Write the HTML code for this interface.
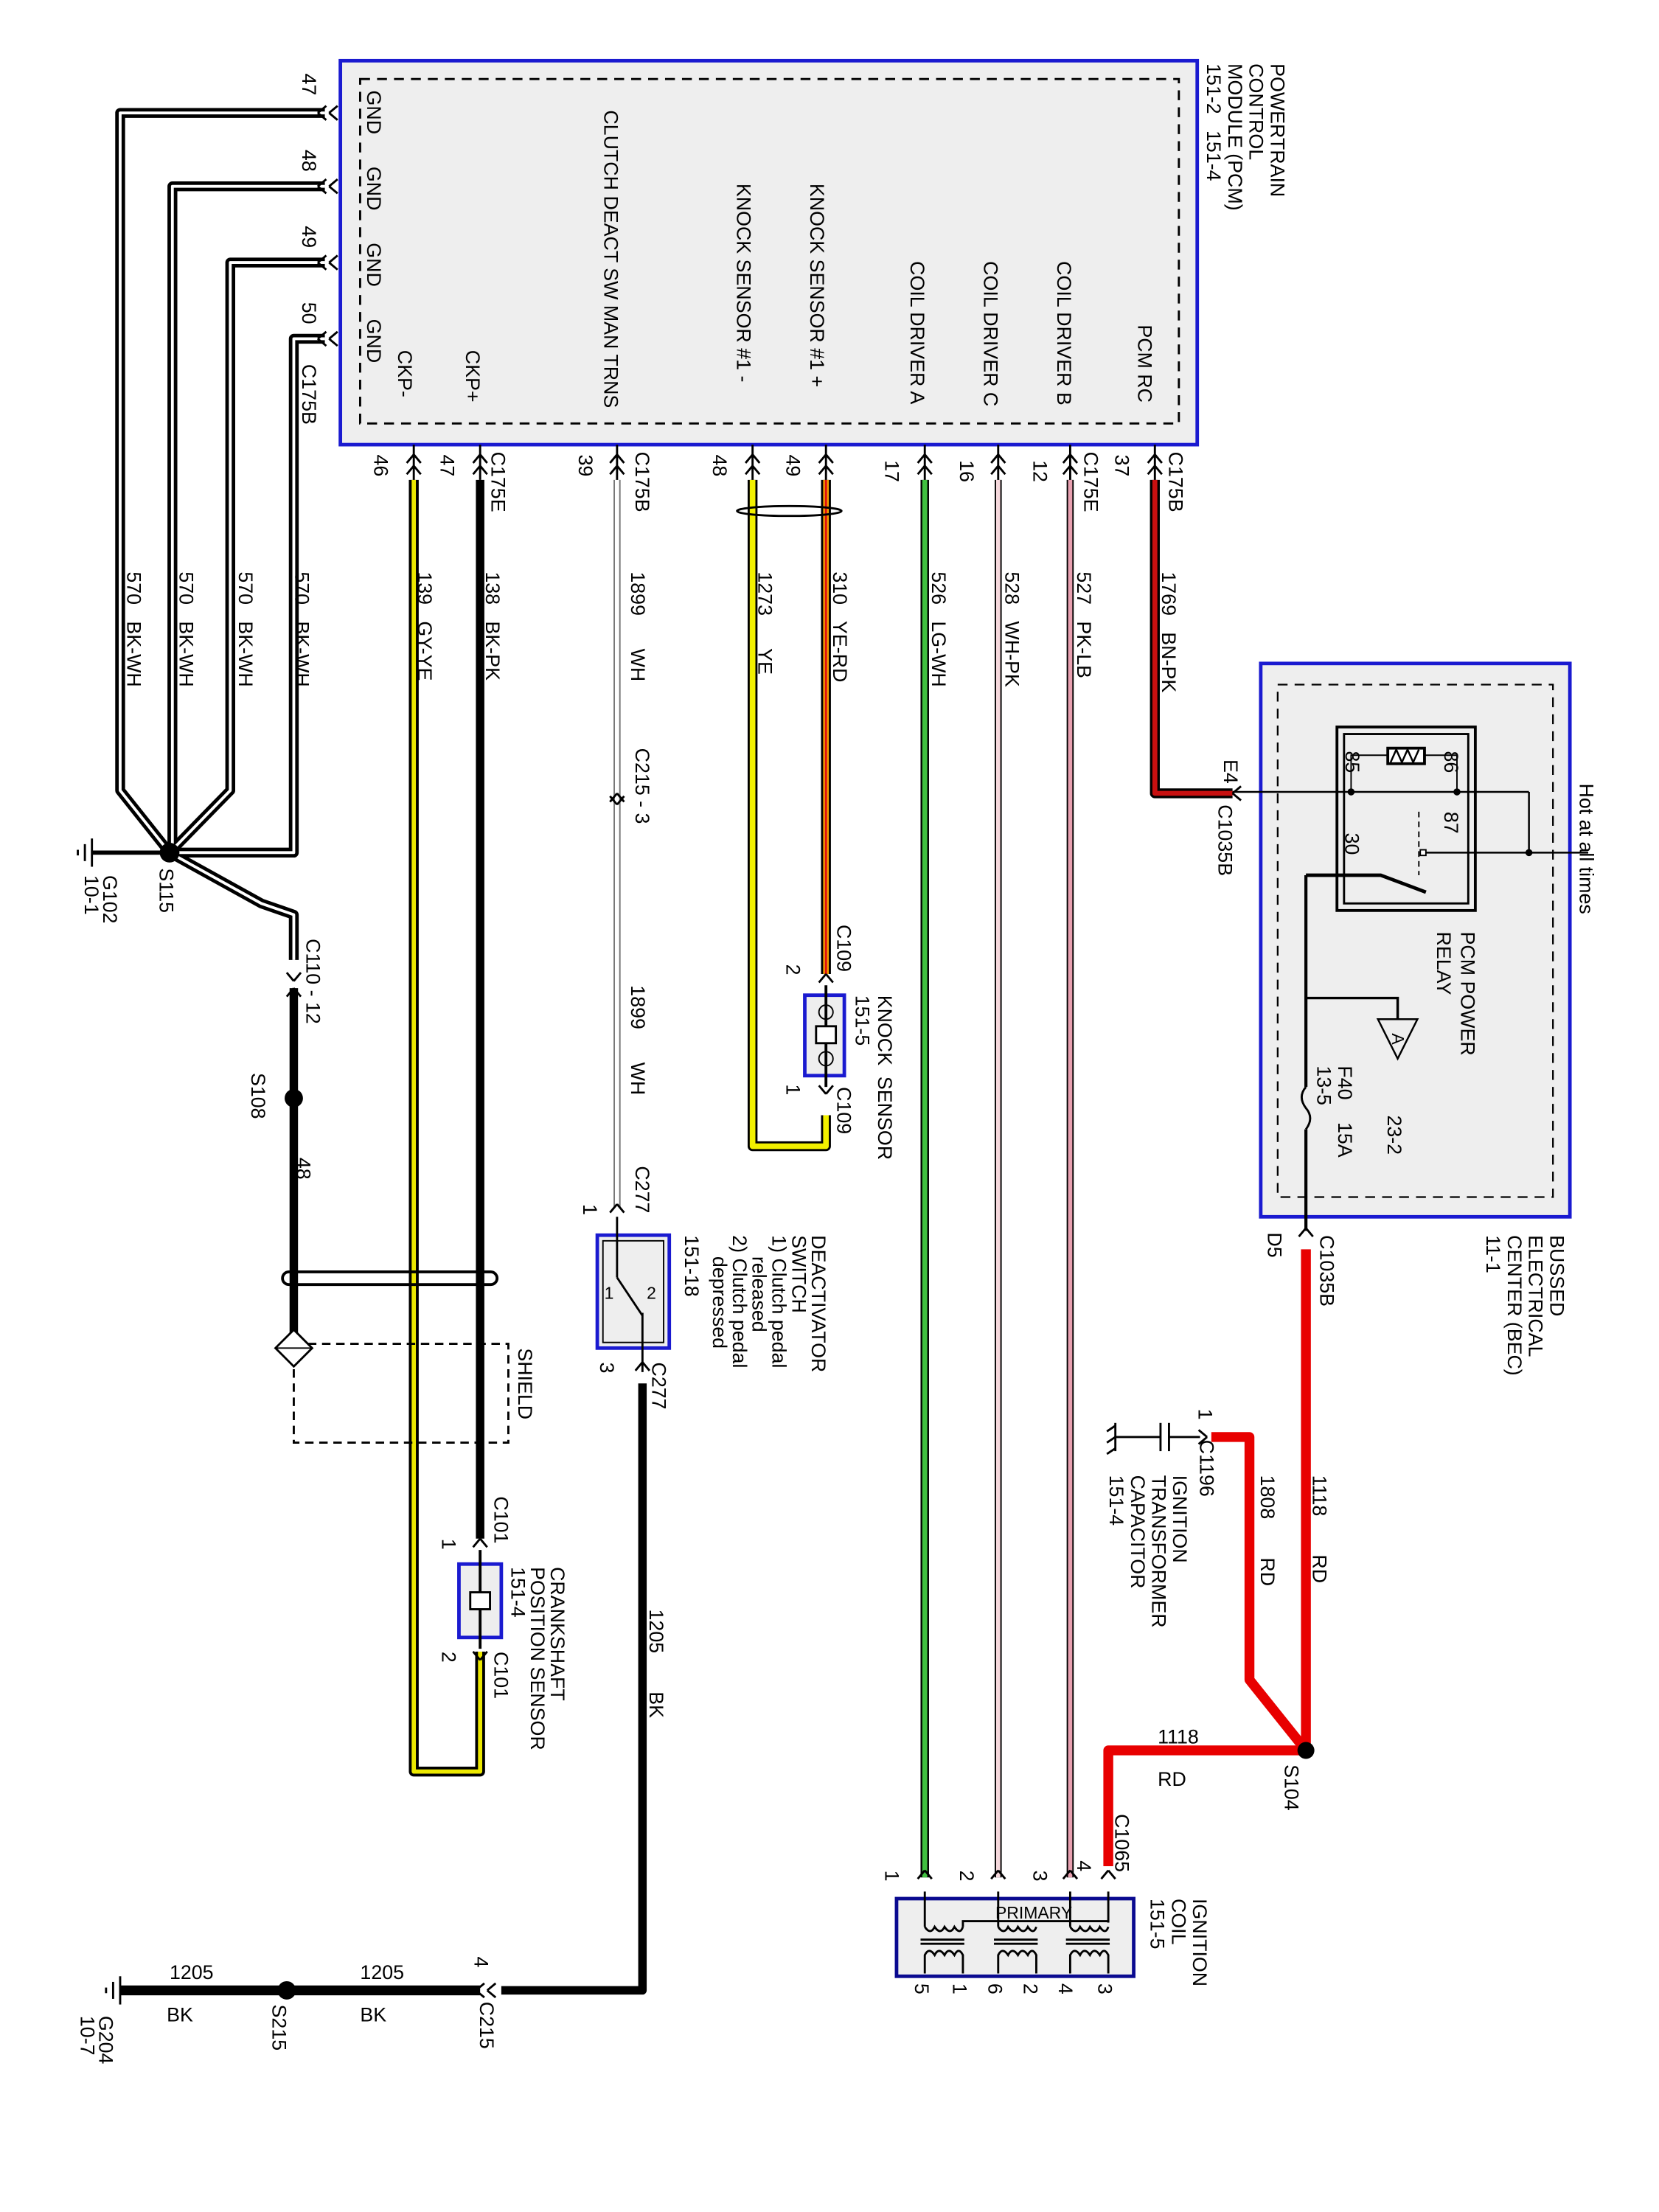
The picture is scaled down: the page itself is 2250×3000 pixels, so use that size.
<!DOCTYPE html>
<html><head><meta charset="utf-8"><style>
html,body{margin:0;padding:0;background:#fff}
svg{display:block}
text{font-family:"Liberation Sans",sans-serif;font-size:14px;fill:#000;white-space:pre}
.s{font-size:12px}
</style></head><body>
<svg width="2250" height="3000" viewBox="0 0 1175 1567" xmlns="http://www.w3.org/2000/svg" xml:space="preserve">
<rect width="1175" height="1567" fill="#fff"/>
<!-- PCM -->
<rect x="241" y="43" width="607" height="272" fill="#eeeeee" stroke="#1a1ad0" stroke-width="2.5"/>
<rect x="255" y="56" width="580" height="244" fill="none" stroke="#000" stroke-width="1.5" stroke-dasharray="7,5"/>
<!-- BEC -->
<rect x="893" y="470" width="219" height="392" fill="#eeeeee" stroke="#1a1ad0" stroke-width="2.5"/>
<rect x="905" y="485" width="195" height="363" fill="none" stroke="#000" stroke-width="1.2" stroke-dasharray="7,5"/>
<rect x="947" y="515" width="98" height="130" fill="#eee" stroke="#000" stroke-width="2"/>
<rect x="952" y="520" width="88" height="120" fill="none" stroke="#000" stroke-width="1.5"/>
<rect x="983" y="530" width="26" height="11" fill="#fff" stroke="#000" stroke-width="2"/>
<polyline points="985,540 989,531 993,540 997,531 1001,540 1005,531" fill="none" stroke="#000" stroke-width="1.3"/>
<polyline points="957,561 957,535 983,535" fill="none" stroke="#000"/><polyline points="1009,535 1032,535 1032,561" fill="none" stroke="#000"/>
<line x1="873" y1="561" x2="1083" y2="561" stroke="#000" stroke-width="1.3"/>
<line x1="1083" y1="561" x2="1083" y2="604" stroke="#000" stroke-width="1.3"/>
<line x1="1008" y1="604" x2="1125" y2="604" stroke="#000" stroke-width="1.3"/>
<circle cx="957" cy="561" r="2.5"/><circle cx="1032" cy="561" r="2.5"/><circle cx="1083" cy="604" r="2.5"/>
<rect x="1006" y="602" width="4" height="4" fill="#fff" stroke="#000"/>
<line x1="1005" y1="575" x2="1005" y2="620" stroke="#000" stroke-dasharray="4,3"/>
<line x1="925" y1="620" x2="925" y2="770" stroke="#000" stroke-width="2.2"/>
<line x1="925" y1="800" x2="925" y2="872" stroke="#000" stroke-width="2.2"/>
<polyline points="925,620 978,620 1010,632" fill="none" stroke="#000" stroke-width="2.5"/>
<polyline points="925,707 990,707 990,722" fill="none" stroke="#000" stroke-width="1.8"/>
<polygon points="976,722 1004,722 990,750" fill="#eee" stroke="#000" stroke-width="1.3"/>
<text x="986" y="732" class="s" font-size="9" transform="rotate(90 986 732)">A</text>
<path d="M925,770 q-6,7 0,15 q6,7 0,15" fill="none" stroke="#000" stroke-width="1.5"/>
<g fill="none" stroke-linejoin="round">
<g stroke="#000" stroke-width="7">
<polyline points="230,80 85,80 85,560 120,604"/><polyline points="230,132 122,132 122,604"/>
<polyline points="230,186 163,186 163,560 120,604"/><polyline points="230,240 208,240 208,604 120,604"/>
<polyline points="120,604 185,640 208,648 208,680"/>
</g>
<g stroke="#fff" stroke-width="2">
<polyline points="230,80 85,80 85,560 120,604"/><polyline points="230,132 122,132 122,604"/>
<polyline points="230,186 163,186 163,560 120,604"/><polyline points="230,240 208,240 208,604 120,604"/>
<polyline points="120,604 185,640 208,648 208,680"/>
</g>
<line x1="120" y1="604" x2="65" y2="604" stroke="#000" stroke-width="3"/>
<line x1="208" y1="700" x2="208" y2="955" stroke="#000" stroke-width="6"/>
<polyline points="293,340 293,1255 340,1255 340,1170" stroke="#000" stroke-width="7"/>
<polyline points="293,340 293,1255 340,1255 340,1170" stroke="#ece800" stroke-width="3"/>
<line x1="340" y1="340" x2="340" y2="1090" stroke="#000" stroke-width="6"/>
<line x1="437" y1="340" x2="437" y2="855" stroke="#777" stroke-width="5"/>
<line x1="437" y1="340" x2="437" y2="855" stroke="#fff" stroke-width="3"/>
<polyline points="455,980 455,1410 355,1410" stroke="#000" stroke-width="6"/>
<line x1="340" y1="1410" x2="85" y2="1410" stroke="#000" stroke-width="7"/>
<polyline points="533,340 533,812 585,812 585,790" stroke="#000" stroke-width="7"/>
<polyline points="533,340 533,812 585,812 585,790" stroke="#f2f000" stroke-width="4"/>
<line x1="585" y1="340" x2="585" y2="690" stroke="#000" stroke-width="7"/>
<line x1="585" y1="340" x2="585" y2="690" stroke="#f5a000" stroke-width="4"/>
<line x1="585" y1="340" x2="585" y2="690" stroke="#e01010" stroke-width="1.5"/>
<line x1="655" y1="340" x2="655" y2="1330" stroke="#000" stroke-width="6"/>
<line x1="655" y1="340" x2="655" y2="1330" stroke="#40c040" stroke-width="3.5"/>
<line x1="707" y1="340" x2="707" y2="1330" stroke="#000" stroke-width="5"/>
<line x1="707" y1="340" x2="707" y2="1330" stroke="#f5d8dc" stroke-width="3"/>
<line x1="758" y1="340" x2="758" y2="1330" stroke="#000" stroke-width="5"/>
<line x1="758" y1="340" x2="758" y2="1330" stroke="#e8a0b0" stroke-width="3"/>
<polyline points="818,340 818,562 873,562" stroke="#000" stroke-width="7"/>
<polyline points="818,340 818,562 873,562" stroke="#c81010" stroke-width="3.5"/>
<g stroke="#e80000" stroke-width="7">
<line x1="925" y1="885" x2="925" y2="1240"/>
<polyline points="925,1240 885,1190 885,1018 858,1018"/>
<polyline points="925,1240 785,1240 785,1322"/>
</g>
</g>
<circle cx="120" cy="604" r="7"/><circle cx="208" cy="778" r="6.5"/><circle cx="203" cy="1410" r="6.5"/><circle cx="925" cy="1240" r="6"/>
<ellipse cx="559" cy="362" rx="37" ry="3.5" fill="none" stroke="#000" stroke-width="1.5"/>
<rect x="200" y="901" width="152" height="9" rx="4.5" fill="none" stroke="#000" stroke-width="2"/>
<rect x="208" y="952" width="152" height="70" fill="none" stroke="#000" stroke-width="1.5" stroke-dasharray="6,4"/>
<polygon points="208,942 221,955 208,968 195,955" fill="#fff" stroke="#000" stroke-width="1.5"/>
<line x1="195" y1="955" x2="221" y2="955" stroke="#000"/>
<g stroke="#000" stroke-width="1.5"><line x1="65" y1="594" x2="65" y2="614"/><line x1="60" y1="598" x2="60" y2="610"/><line x1="55" y1="602" x2="55" y2="606"/>
<line x1="85" y1="1400" x2="85" y2="1420"/><line x1="80" y1="1404" x2="80" y2="1416"/><line x1="75" y1="1408" x2="75" y2="1412"/></g>
<rect x="570" y="705" width="28" height="57" fill="#eee" stroke="#1a1ad0" stroke-width="2.5"/>
<line x1="585" y1="698" x2="585" y2="770" stroke="#000" stroke-width="2"/>
<rect x="578" y="727" width="14" height="12" fill="#fff" stroke="#000" stroke-width="1.5"/>
<circle cx="585" cy="717" r="5" fill="none" stroke="#000"/><circle cx="585" cy="750" r="5" fill="none" stroke="#000"/>
<rect x="325" y="1108" width="30" height="52" fill="#eee" stroke="#1a1ad0" stroke-width="2.5"/>
<line x1="340" y1="1098" x2="340" y2="1168" stroke="#000" stroke-width="2"/>
<rect x="333" y="1128" width="14" height="12" fill="#fff" stroke="#000" stroke-width="1.5"/>
<rect x="423" y="875" width="51" height="80" fill="#eee" stroke="#1a1ad0" stroke-width="2.5"/>
<rect x="427" y="879" width="43" height="72" fill="none" stroke="#000" stroke-width="1"/>
<polyline points="437,862 437,905" fill="none" stroke="#000" stroke-width="1.5"/>
<line x1="437" y1="905" x2="455" y2="932" stroke="#000" stroke-width="1.5"/>
<polyline points="455,930 455,972" fill="none" stroke="#000" stroke-width="1.5"/>
<text x="428" y="920" class="s">1</text><text x="458" y="920" class="s">2</text>
<g stroke="#000" stroke-width="1.5" fill="none"><line x1="850" y1="1018" x2="828" y2="1018"/><line x1="828" y1="1008" x2="828" y2="1028"/><line x1="822" y1="1008" x2="822" y2="1028"/><line x1="822" y1="1018" x2="790" y2="1018"/>
<line x1="790" y1="1008" x2="790" y2="1028"/><line x1="790" y1="1010" x2="784" y2="1014"/><line x1="790" y1="1018" x2="784" y2="1022"/><line x1="790" y1="1026" x2="784" y2="1030"/></g>
<rect x="635" y="1345" width="168" height="55" fill="#eeeeee" stroke="#0a0a90" stroke-width="2.5"/>
<g stroke="#000" stroke-width="1.5" fill="none">
<line x1="655" y1="1340" x2="655" y2="1365"/><line x1="707" y1="1340" x2="707" y2="1365"/><line x1="758" y1="1340" x2="758" y2="1365"/><line x1="785" y1="1340" x2="785" y2="1362"/>
<polyline points="682,1365 682,1361 785,1361"/>
<path d="M655,1365 q4,6 7,0 q4,6 7,0 q4,6 7,0 q4,6 6,0 M707,1365 q4,6 7,0 q4,6 7,0 q4,6 7,0 q4,6 6,0 M758,1365 q4,6 7,0 q4,6 7,0 q4,6 7,0 q4,6 6,0"/>
<line x1="652" y1="1374" x2="683" y2="1374"/><line x1="652" y1="1377" x2="683" y2="1377"/><line x1="704" y1="1374" x2="735" y2="1374"/><line x1="704" y1="1377" x2="735" y2="1377"/><line x1="755" y1="1374" x2="786" y2="1374"/><line x1="755" y1="1377" x2="786" y2="1377"/>
<path d="M655,1398 v-13 q3,-6 7,0 q3,-6 7,0 q3,-6 7,0 q3,-6 6,0 v13 M707,1398 v-13 q3,-6 7,0 q3,-6 7,0 q3,-6 7,0 q3,-6 6,0 v13 M758,1398 v-13 q3,-6 7,0 q3,-6 7,0 q3,-6 7,0 q3,-6 6,0 v13"/>
</g>
<text x="705" y="1359" class="s">PRIMARY</text>
<g stroke="#000" stroke-width="1.5" fill="none">
<path d="M293,322 l-5,6 M293,322 l5,6 M293,330 l-5,6 M293,330 l5,6 M340,322 l-5,6 M340,322 l5,6 M340,330 l-5,6 M340,330 l5,6 M437,322 l-5,6 M437,322 l5,6 M437,330 l-5,6 M437,330 l5,6 M533,322 l-5,6 M533,322 l5,6 M533,330 l-5,6 M533,330 l5,6 M585,322 l-5,6 M585,322 l5,6 M585,330 l-5,6 M585,330 l5,6 M655,322 l-5,6 M655,322 l5,6 M655,330 l-5,6 M655,330 l5,6 M707,322 l-5,6 M707,322 l5,6 M707,330 l-5,6 M707,330 l5,6 M758,322 l-5,6 M758,322 l5,6 M758,330 l-5,6 M758,330 l5,6 M818,322 l-5,6 M818,322 l5,6 M818,330 l-5,6 M818,330 l5,6"/>
<path d="M293,315v25M340,315v25M437,315v25M533,315v25M585,315v25M655,315v25M707,315v25M758,315v25M818,315v25"/>
<path d="M225,80 l6,-5 M225,80 l6,5 M233,80 l6,-5 M233,80 l6,5 M225,132 l6,-5 M225,132 l6,5 M233,132 l6,-5 M233,132 l6,5 M225,186 l6,-5 M225,186 l6,5 M233,186 l6,-5 M233,186 l6,5 M225,240 l6,-5 M225,240 l6,5 M233,240 l6,-5 M233,240 l6,5"/>
<path d="M437,562 l-5,6 M437,562 l5,6 M437,570 l-5,-6 M437,570 l5,-6 M437,853 l-5,6 M437,853 l5,6 M455,965 l-5,6 M455,965 l5,6 M585,690 l-5,6 M585,690 l5,6 M585,775 l-5,-6 M585,775 l5,-6 M340,1090 l-5,6 M340,1090 l5,6 M340,1176 l-5,-6 M340,1176 l5,-6 M208,695 l-5,-6 M208,695 l5,-6 M208,700 l-5,6 M208,700 l5,6 M655,1325 l-5,6 M655,1325 l5,6 M707,1325 l-5,6 M707,1325 l5,6 M758,1325 l-5,6 M758,1325 l5,6 M785,1325 l-5,6 M785,1325 l5,6 M873,562 l6,-5 M873,562 l6,5 M925,870 l-5,6 M925,870 l5,6 M855,1018 l-6,-5 M855,1018 l-6,5 M345,1410 l6,-5 M345,1410 l6,5 M337,1410 l6,-5 M337,1410 l6,5"/>
</g>
<g>
<text x="900" y="45" transform="rotate(90 900 45)">POWERTRAIN</text>
<text x="885" y="45" transform="rotate(90 885 45)">CONTROL</text>
<text x="870" y="45" transform="rotate(90 870 45)">MODULE (PCM)</text>
<text x="855" y="45" transform="rotate(90 855 45)">151-2   151-4</text>
<text x="260" y="64" transform="rotate(90 260 64)">GND</text>
<text x="260" y="118" transform="rotate(90 260 118)">GND</text>
<text x="260" y="172" transform="rotate(90 260 172)">GND</text>
<text x="260" y="226" transform="rotate(90 260 226)">GND</text>
<text x="282" y="248" transform="rotate(90 282 248)">CKP-</text>
<text x="330" y="248" transform="rotate(90 330 248)">CKP+</text>
<text x="428" y="78" transform="rotate(90 428 78)">CLUTCH DEACT SW MAN TRNS</text>
<text x="522" y="130" transform="rotate(90 522 130)">KNOCK SENSOR #1 -</text>
<text x="574" y="130" transform="rotate(90 574 130)">KNOCK SENSOR #1 +</text>
<text x="645" y="185" transform="rotate(90 645 185)">COIL DRIVER A</text>
<text x="697" y="185" transform="rotate(90 697 185)">COIL DRIVER C</text>
<text x="749" y="185" transform="rotate(90 749 185)">COIL DRIVER B</text>
<text x="806" y="230" transform="rotate(90 806 230)">PCM RC</text>
<text x="214" y="52" transform="rotate(90 214 52)">47</text>
<text x="214" y="106" transform="rotate(90 214 106)">48</text>
<text x="214" y="160" transform="rotate(90 214 160)">49</text>
<text x="214" y="214" transform="rotate(90 214 214)">50</text>
<text x="214" y="258" transform="rotate(90 214 258)">C175B</text>
<text x="265" y="322" transform="rotate(90 265 322)">46</text>
<text x="312" y="322" transform="rotate(90 312 322)">47</text>
<text x="348" y="320" transform="rotate(90 348 320)">C175E</text>
<text x="410" y="322" transform="rotate(90 410 322)">39</text>
<text x="450" y="320" transform="rotate(90 450 320)">C175B</text>
<text x="505" y="322" transform="rotate(90 505 322)">48</text>
<text x="557" y="322" transform="rotate(90 557 322)">49</text>
<text x="627" y="326" transform="rotate(90 627 326)">17</text>
<text x="680" y="326" transform="rotate(90 680 326)">16</text>
<text x="732" y="326" transform="rotate(90 732 326)">12</text>
<text x="768" y="320" transform="rotate(90 768 320)">C175E</text>
<text x="790" y="322" transform="rotate(90 790 322)">37</text>
<text x="828" y="320" transform="rotate(90 828 320)">C175B</text>
<text x="90" y="405" transform="rotate(90 90 405)">570   BK-WH</text>
<text x="127" y="405" transform="rotate(90 127 405)">570   BK-WH</text>
<text x="169" y="405" transform="rotate(90 169 405)">570   BK-WH</text>
<text x="209" y="405" transform="rotate(90 209 405)">570   BK-WH</text>
<text x="296" y="405" transform="rotate(90 296 405)">139   GY-YE</text>
<text x="344" y="405" transform="rotate(90 344 405)">138   BK-PK</text>
<text x="447" y="405" transform="rotate(90 447 405)">1899      WH</text>
<text x="537" y="405" transform="rotate(90 537 405)">1273      YE</text>
<text x="590" y="405" transform="rotate(90 590 405)">310   YE-RD</text>
<text x="660" y="405" transform="rotate(90 660 405)">526   LG-WH</text>
<text x="712" y="405" transform="rotate(90 712 405)">528   WH-PK</text>
<text x="763" y="405" transform="rotate(90 763 405)">527   PK-LB</text>
<text x="823" y="405" transform="rotate(90 823 405)">1769   BN-PK</text>
<text x="450" y="530" transform="rotate(90 450 530)">C215 - 3</text>
<text x="447" y="698" transform="rotate(90 447 698)">1899      WH</text>
<text x="450" y="826" transform="rotate(90 450 826)">C277</text>
<text x="413" y="853" transform="rotate(90 413 853)">1</text>
<text x="425" y="965" transform="rotate(90 425 965)">3</text>
<text x="462" y="965" transform="rotate(90 462 965)">C277</text>
<text x="460" y="1140" transform="rotate(90 460 1140)">1205       BK</text>
<text x="575" y="875" transform="rotate(90 575 875)">DEACTIVATOR</text>
<text x="561" y="875" transform="rotate(90 561 875)">SWITCH</text>
<text x="547" y="875" transform="rotate(90 547 875)">1) Clutch pedal</text>
<text x="533" y="890" transform="rotate(90 533 890)">released</text>
<text x="519" y="875" transform="rotate(90 519 875)">2) Clutch pedal</text>
<text x="505" y="890" transform="rotate(90 505 890)">depressed</text>
<text x="485" y="875" transform="rotate(90 485 875)">151-18</text>
<text x="593" y="655" transform="rotate(90 593 655)">C109</text>
<text x="557" y="683" transform="rotate(90 557 683)">2</text>
<text x="622" y="705" transform="rotate(90 622 705)">KNOCK  SENSOR</text>
<text x="606" y="705" transform="rotate(90 606 705)">151-5</text>
<text x="557" y="768" transform="rotate(90 557 768)">1</text>
<text x="593" y="770" transform="rotate(90 593 770)">C109</text>
<text x="350" y="1060" transform="rotate(90 350 1060)">C101</text>
<text x="313" y="1090" transform="rotate(90 313 1090)">1</text>
<text x="313" y="1170" transform="rotate(90 313 1170)">2</text>
<text x="350" y="1170" transform="rotate(90 350 1170)">C101</text>
<text x="390" y="1110" transform="rotate(90 390 1110)">CRANKSHAFT</text>
<text x="376" y="1110" transform="rotate(90 376 1110)">POSITION SENSOR</text>
<text x="362" y="1110" transform="rotate(90 362 1110)">151-4</text>
<text x="367" y="955" transform="rotate(90 367 955)">SHIELD</text>
<text x="217" y="665" transform="rotate(90 217 665)">C110 - 12</text>
<text x="178" y="760" transform="rotate(90 178 760)">S108</text>
<text x="210" y="820" transform="rotate(90 210 820)">48</text>
<text x="113" y="615" transform="rotate(90 113 615)">S115</text>
<text x="73" y="620" transform="rotate(90 73 620)">G102</text>
<text x="60" y="620" transform="rotate(90 60 620)">10-1</text>
<text x="193" y="1420" transform="rotate(90 193 1420)">S215</text>
<text x="70" y="1428" transform="rotate(90 70 1428)">G204</text>
<text x="57" y="1428" transform="rotate(90 57 1428)">10-7</text>
<text x="336" y="1386" transform="rotate(90 336 1386)">4</text>
<text x="340" y="1418" transform="rotate(90 340 1418)">C215</text>
<text x="1119" y="555" transform="rotate(90 1119 555)">Hot at all times</text>
<text x="867" y="538" transform="rotate(90 867 538)">E4</text>
<text x="863" y="570" transform="rotate(90 863 570)">C1035B</text>
<text x="953" y="532" transform="rotate(90 953 532)">85</text>
<text x="1023" y="532" transform="rotate(90 1023 532)">86</text>
<text x="1023" y="575" transform="rotate(90 1023 575)">87</text>
<text x="953" y="590" transform="rotate(90 953 590)">30</text>
<text x="1035" y="660" transform="rotate(90 1035 660)">PCM POWER</text>
<text x="1018" y="660" transform="rotate(90 1018 660)">RELAY</text>
<text x="948" y="755" transform="rotate(90 948 755)">F40</text>
<text x="933" y="755" transform="rotate(90 933 755)">13-5</text>
<text x="948" y="795" transform="rotate(90 948 795)">15A</text>
<text x="983" y="790" transform="rotate(90 983 790)">23-2</text>
<text x="1098" y="875" transform="rotate(90 1098 875)">BUSSED</text>
<text x="1083" y="875" transform="rotate(90 1083 875)">ELECTRICAL</text>
<text x="1068" y="875" transform="rotate(90 1068 875)">CENTER (BEC)</text>
<text x="1053" y="875" transform="rotate(90 1053 875)">11-1</text>
<text x="935" y="875" transform="rotate(90 935 875)">C1035B</text>
<text x="898" y="873" transform="rotate(90 898 873)">D5</text>
<text x="930" y="1045" transform="rotate(90 930 1045)">1118       RD</text>
<text x="893" y="1045" transform="rotate(90 893 1045)">1808       RD</text>
<text x="850" y="1020" transform="rotate(90 850 1020)">C1196</text>
<text x="849" y="998" transform="rotate(90 849 998)">1</text>
<text x="831" y="1045" transform="rotate(90 831 1045)">IGNITION</text>
<text x="816" y="1045" transform="rotate(90 816 1045)">TRANSFORMER</text>
<text x="801" y="1045" transform="rotate(90 801 1045)">CAPACITOR</text>
<text x="786" y="1045" transform="rotate(90 786 1045)">151-4</text>
<text x="910" y="1250" transform="rotate(90 910 1250)">S104</text>
<text x="790" y="1285" transform="rotate(90 790 1285)">C1065</text>
<text x="627" y="1325" transform="rotate(90 627 1325)">1</text>
<text x="680" y="1325" transform="rotate(90 680 1325)">2</text>
<text x="732" y="1325" transform="rotate(90 732 1325)">3</text>
<text x="763" y="1318" transform="rotate(90 763 1318)">4</text>
<text x="648" y="1405" transform="rotate(90 648 1405)">5</text>
<text x="675" y="1405" transform="rotate(90 675 1405)">1</text>
<text x="700" y="1405" transform="rotate(90 700 1405)">6</text>
<text x="725" y="1405" transform="rotate(90 725 1405)">2</text>
<text x="750" y="1405" transform="rotate(90 750 1405)">4</text>
<text x="778" y="1405" transform="rotate(90 778 1405)">3</text>
<text x="845" y="1345" transform="rotate(90 845 1345)">IGNITION</text>
<text x="830" y="1345" transform="rotate(90 830 1345)">COIL</text>
<text x="815" y="1345" transform="rotate(90 815 1345)">151-5</text>
</g>
<text x="120" y="1402">1205</text><text x="118" y="1432">BK</text>
<text x="255" y="1402">1205</text><text x="255" y="1432">BK</text>
<text x="820" y="1235">1118</text><text x="820" y="1265">RD</text>
</svg>
</body></html>
